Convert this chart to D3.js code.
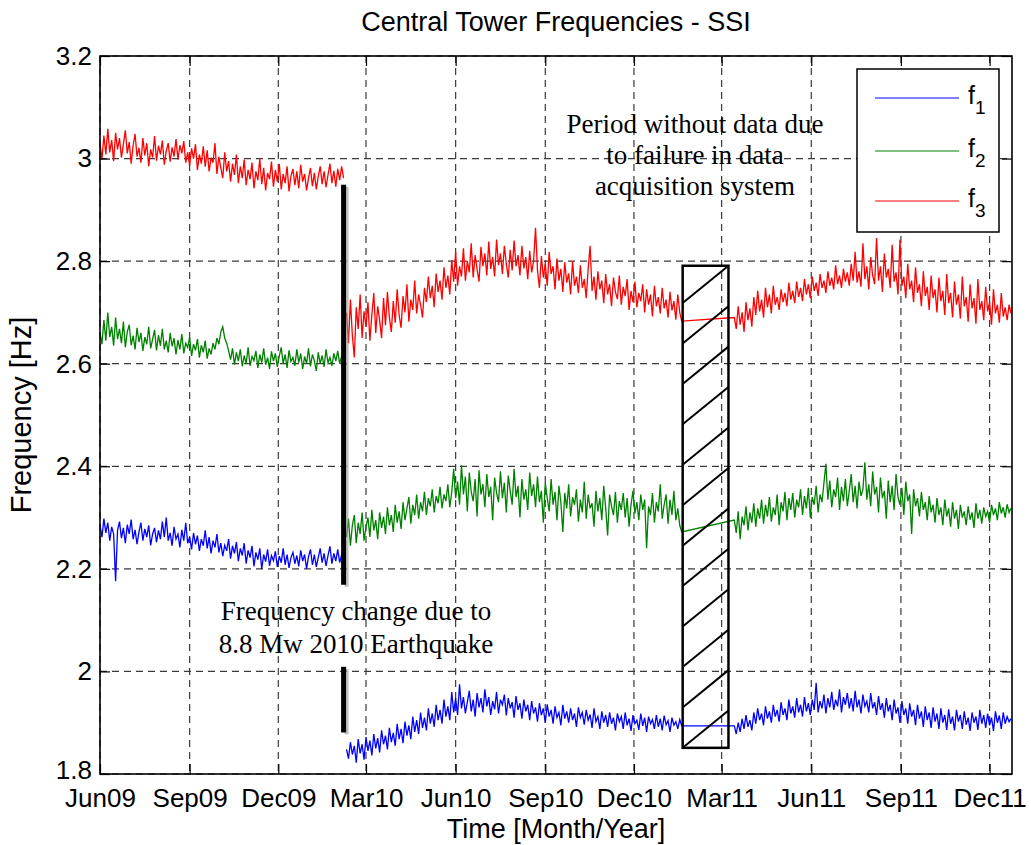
<!DOCTYPE html>
<html><head><meta charset="utf-8">
<script src="https://cdn.jsdelivr.net/npm/d3@7"></script>
<style>body{margin:0;background:#fff}svg{display:block}</style>
</head><body><svg id="c" width="1031" height="845"></svg>
<script>
// ---------- data ----------
const xTickLabels = ["Jun09","Sep09","Dec09","Mar10","Jun10","Sep10","Dec10","Mar11","Jun11","Sep11","Dec11"];
const xTickDates  = ["2009-06-01","2009-09-01","2009-12-01","2010-03-01","2010-06-01","2010-09-01","2010-12-01","2011-03-01","2011-06-01","2011-09-01","2011-12-01"];
const yTicks = [1.8, 2, 2.2, 2.4, 2.6, 2.8, 3, 3.2];
const xDomain = ["2009-06-01", "2011-12-24"];
const stepDays = 2;
const preStart = "2009-06-01";   // before the earthquake
const postStart = "2010-02-09";  // after the earthquake, until the acquisition failure
const lateStart = "2011-03-14";  // after the acquisition failure

const f3Pre = [3.030,2.998,3.045,3.008,3.058,3.012,3.036,2.995,3.050,3.018,
 3.040,3.002,3.028,3.055,3.010,3.032,2.990,3.026,3.048,3.004,
 3.021,2.992,3.040,3.006,3.030,2.985,3.018,3.002,3.044,2.996,
 3.025,3.008,3.035,2.988,3.015,3.030,2.994,3.022,3.004,3.038,
 2.998,3.026,3.010,3.034,2.992,3.012,2.986,3.020,3.000,3.028,
 2.978,3.008,2.990,3.024,2.984,3.016,2.975,3.002,2.992,3.030,
 2.970,3.004,2.982,2.962,3.012,2.975,2.995,2.955,2.990,2.968,
 3.008,2.952,2.985,2.962,2.998,2.948,2.978,2.960,2.992,2.942,
 2.975,2.958,3.000,2.950,2.982,2.938,2.972,2.960,2.994,2.945,
 2.978,2.955,2.990,2.940,2.970,2.952,2.985,2.936,2.966,2.980,
 2.948,2.975,2.942,2.988,2.955,2.970,2.938,2.962,2.982,2.946,
 2.972,2.940,2.965,2.985,2.950,2.975,2.944,2.968,2.990,2.952,
 2.976,2.945,2.980,2.958,2.985,2.962];
const f2Pre = [2.660,2.638,2.685,2.645,2.700,2.652,2.672,2.635,2.690,2.648,
 2.668,2.640,2.682,2.632,2.662,2.676,2.636,2.655,2.628,2.670,
 2.642,2.660,2.625,2.652,2.638,2.672,2.630,2.648,2.666,2.626,
 2.656,2.635,2.668,2.628,2.645,2.622,2.660,2.634,2.650,2.618,
 2.646,2.628,2.658,2.620,2.640,2.632,2.652,2.615,2.638,2.626,
 2.648,2.612,2.636,2.622,2.645,2.610,2.630,2.618,2.640,2.628,
 2.650,2.638,2.662,2.672,2.650,2.640,2.625,2.608,2.630,2.598,
 2.622,2.605,2.628,2.595,2.616,2.600,2.632,2.596,2.614,2.606,
 2.625,2.592,2.618,2.602,2.630,2.598,2.612,2.590,2.624,2.605,
 2.620,2.594,2.615,2.632,2.600,2.618,2.592,2.626,2.604,2.612,
 2.596,2.628,2.602,2.620,2.590,2.614,2.600,2.630,2.595,2.618,
 2.606,2.586,2.622,2.600,2.616,2.594,2.628,2.602,2.612,2.596,
 2.620,2.605,2.625,2.600,2.615,2.608];
const f1Pre = [2.285,2.262,2.298,2.270,2.290,2.255,2.282,2.268,2.176,2.275,
 2.292,2.260,2.280,2.250,2.286,2.268,2.296,2.258,2.276,2.248,
 2.272,2.290,2.255,2.278,2.262,2.285,2.246,2.268,2.280,2.252,
 2.275,2.258,2.292,2.262,2.300,2.255,2.270,2.245,2.282,2.258,
 2.268,2.242,2.276,2.255,2.290,2.250,2.262,2.238,2.270,2.248,
 2.265,2.235,2.258,2.245,2.275,2.240,2.262,2.230,2.255,2.242,
 2.268,2.232,2.250,2.225,2.246,2.235,2.258,2.220,2.245,2.230,
 2.252,2.215,2.240,2.226,2.250,2.210,2.236,2.222,2.245,2.205,
 2.232,2.218,2.240,2.200,2.228,2.214,2.238,2.206,2.226,2.216,
 2.234,2.204,2.225,2.212,2.240,2.208,2.228,2.202,2.222,2.232,
 2.210,2.226,2.205,2.236,2.215,2.228,2.200,2.224,2.238,2.208,
 2.228,2.204,2.222,2.240,2.212,2.230,2.206,2.226,2.244,2.210,
 2.230,2.215,2.238,2.212,2.228,2.220];

const f3Post = [2.700,2.640,2.725,2.655,2.612,2.710,2.668,2.735,2.650,2.702,
 2.672,2.720,2.645,2.695,2.738,2.660,2.712,2.685,2.650,2.728,
 2.675,2.740,2.690,2.662,2.722,2.680,2.745,2.695,2.670,2.732,
 2.700,2.755,2.682,2.725,2.705,2.762,2.698,2.735,2.715,2.690,
 2.748,2.720,2.770,2.728,2.752,2.710,2.776,2.740,2.762,2.725,
 2.788,2.748,2.772,2.735,2.802,2.760,2.818,2.752,2.790,2.770,
 2.825,2.762,2.800,2.778,2.835,2.768,2.812,2.784,2.760,2.828,
 2.790,2.815,2.772,2.838,2.785,2.808,2.770,2.842,2.792,2.815,
 2.775,2.830,2.795,2.768,2.822,2.782,2.840,2.790,2.812,2.772,
 2.830,2.786,2.808,2.765,2.820,2.778,2.800,2.865,2.782,2.748,
 2.810,2.768,2.795,2.752,2.818,2.775,2.790,2.745,2.805,2.762,
 2.785,2.740,2.798,2.758,2.776,2.735,2.800,2.752,2.770,2.738,
 2.792,2.748,2.765,2.728,2.785,2.830,2.742,2.770,2.725,2.780,
 2.745,2.762,2.718,2.775,2.735,2.755,2.712,2.768,2.740,2.726,
 2.772,2.715,2.750,2.732,2.765,2.705,2.742,2.720,2.760,2.710,
 2.738,2.722,2.755,2.700,2.745,2.715,2.735,2.692,2.752,2.712,
 2.730,2.698,2.748,2.708,2.725,2.690,2.740,2.704,2.722,2.686,
 2.735,2.700,2.683];
const f2Post = [2.262,2.298,2.245,2.285,2.305,2.250,2.290,2.268,2.310,2.255,
 2.282,2.300,2.262,2.315,2.275,2.295,2.258,2.310,2.280,2.302,
 2.268,2.320,2.285,2.305,2.272,2.325,2.290,2.312,2.278,2.330,
 2.295,2.318,2.340,2.288,2.325,2.305,2.345,2.298,2.330,2.312,
 2.350,2.305,2.338,2.322,2.355,2.310,2.342,2.328,2.360,2.318,
 2.345,2.332,2.365,2.320,2.350,2.395,2.338,2.370,2.325,2.402,
 2.345,2.380,2.312,2.388,2.350,2.332,2.375,2.302,2.392,2.345,
 2.365,2.320,2.385,2.340,2.360,2.295,2.378,2.348,2.330,2.390,
 2.338,2.368,2.310,2.382,2.352,2.325,2.395,2.340,2.362,2.300,
 2.375,2.335,2.355,2.315,2.388,2.342,2.365,2.320,2.380,2.330,
 2.352,2.290,2.368,2.338,2.312,2.375,2.325,2.350,2.295,2.362,
 2.330,2.272,2.348,2.318,2.365,2.302,2.340,2.325,2.355,2.292,
 2.335,2.310,2.370,2.298,2.345,2.318,2.328,2.282,2.352,2.312,
 2.338,2.295,2.362,2.318,2.265,2.345,2.322,2.305,2.350,2.290,
 2.332,2.315,2.348,2.300,2.338,2.282,2.325,2.352,2.308,2.330,
 2.295,2.345,2.315,2.335,2.240,2.322,2.305,2.348,2.290,2.330,
 2.312,2.365,2.298,2.325,2.345,2.288,2.335,2.305,2.352,2.295,
 2.318,2.285,2.272];
const f1Post = [1.848,1.830,1.862,1.838,1.855,1.822,1.868,1.840,1.858,1.828,
 1.872,1.845,1.865,1.836,1.878,1.850,1.870,1.842,1.885,1.858,
 1.875,1.848,1.890,1.862,1.880,1.855,1.898,1.868,1.888,1.860,
 1.902,1.875,1.895,1.868,1.912,1.882,1.905,1.878,1.920,1.890,
 1.910,1.885,1.928,1.898,1.918,1.892,1.935,1.905,1.925,1.898,
 1.945,1.912,1.932,1.905,1.960,1.920,1.948,1.915,1.975,1.928,
 1.950,1.918,1.940,1.962,1.922,1.945,1.912,1.958,1.930,1.948,
 1.920,1.965,1.932,1.950,1.915,1.942,1.926,1.960,1.918,1.945,
 1.935,1.955,1.914,1.948,1.928,1.940,1.910,1.952,1.925,1.938,
 1.908,1.945,1.922,1.935,1.905,1.942,1.918,1.930,1.902,1.938,
 1.915,1.928,1.900,1.936,1.912,1.925,1.898,1.932,1.910,1.920,
 1.895,1.935,1.908,1.922,1.900,1.928,1.905,1.918,1.892,1.930,
 1.910,1.920,1.896,1.925,1.905,1.916,1.890,1.928,1.902,1.912,
 1.888,1.922,1.900,1.915,1.892,1.920,1.898,1.910,1.885,1.918,
 1.902,1.912,1.888,1.920,1.895,1.908,1.884,1.915,1.898,1.905,
 1.886,1.918,1.894,1.910,1.882,1.912,1.898,1.906,1.888,1.915,
 1.892,1.908,1.885,1.914,1.896,1.904,1.882,1.910,1.895,1.902,
 1.888,1.906,1.894];

const f3Late = [2.690,2.668,2.712,2.676,2.700,2.662,2.720,2.685,2.708,2.672,
 2.730,2.695,2.742,2.702,2.725,2.690,2.748,2.710,2.735,2.698,
 2.752,2.715,2.730,2.705,2.745,2.720,2.738,2.712,2.758,2.725,
 2.742,2.718,2.760,2.730,2.748,2.722,2.765,2.735,2.755,2.728,
 2.770,2.742,2.758,2.732,2.775,2.748,2.762,2.738,2.780,2.752,
 2.768,2.745,2.792,2.755,2.772,2.748,2.785,2.760,2.778,2.752,
 2.795,2.762,2.818,2.758,2.780,2.750,2.835,2.765,2.790,2.745,
 2.808,2.772,2.755,2.845,2.762,2.790,2.740,2.815,2.768,2.785,
 2.748,2.832,2.760,2.778,2.735,2.842,2.752,2.770,2.728,2.795,
 2.745,2.762,2.720,2.788,2.738,2.755,2.712,2.780,2.732,2.750,
 2.705,2.772,2.728,2.745,2.700,2.768,2.722,2.742,2.695,2.775,
 2.718,2.738,2.690,2.760,2.715,2.735,2.688,2.770,2.712,2.730,
 2.682,2.755,2.708,2.728,2.678,2.765,2.705,2.722,2.685,2.750,
 2.702,2.720,2.676,2.745,2.698,2.715,2.680,2.738,2.692,2.710,
 2.685,2.715,2.698];
const f2Late = [2.295,2.270,2.312,2.258,2.302,2.285,2.322,2.275,2.310,2.290,
 2.328,2.282,2.318,2.298,2.335,2.288,2.325,2.302,2.340,2.292,
 2.320,2.305,2.345,2.285,2.330,2.312,2.350,2.295,2.338,2.315,
 2.348,2.300,2.335,2.320,2.355,2.305,2.342,2.318,2.358,2.300,
 2.340,2.325,2.362,2.310,2.345,2.330,2.368,2.405,2.335,2.372,
 2.320,2.355,2.340,2.378,2.315,2.360,2.332,2.375,2.322,2.352,
 2.385,2.330,2.362,2.318,2.370,2.342,2.355,2.408,2.335,2.365,
 2.322,2.390,2.345,2.360,2.310,2.378,2.338,2.352,2.298,2.372,
 2.330,2.362,2.315,2.385,2.340,2.325,2.358,2.305,2.370,2.332,
 2.345,2.268,2.355,2.322,2.338,2.302,2.350,2.315,2.330,2.295,
 2.342,2.310,2.325,2.290,2.338,2.305,2.320,2.285,2.335,2.302,
 2.318,2.282,2.330,2.298,2.315,2.278,2.325,2.300,2.312,2.285,
 2.322,2.296,2.310,2.280,2.328,2.298,2.315,2.288,2.320,2.302,
 2.312,2.290,2.325,2.305,2.318,2.295,2.330,2.308,2.320,2.300,
 2.326,2.310,2.318];
const f1Late = [1.894,1.878,1.900,1.882,1.908,1.888,1.915,1.892,1.905,1.885,
 1.920,1.898,1.928,1.905,1.918,1.895,1.932,1.908,1.922,1.900,
 1.935,1.912,1.925,1.902,1.940,1.915,1.928,1.905,1.945,1.918,
 1.932,1.910,1.948,1.920,1.935,1.912,1.950,1.922,1.938,1.915,
 1.945,1.925,1.978,1.920,1.942,1.928,1.955,1.918,1.948,1.930,
 1.960,1.925,1.945,1.932,1.965,1.920,1.950,1.935,1.958,1.928,
 1.948,1.922,1.962,1.930,1.945,1.918,1.955,1.932,1.942,1.920,
 1.958,1.928,1.940,1.915,1.952,1.925,1.938,1.910,1.948,1.922,
 1.935,1.905,1.945,1.918,1.930,1.900,1.942,1.915,1.928,1.898,
 1.938,1.912,1.925,1.895,1.935,1.908,1.922,1.892,1.932,1.905,
 1.920,1.890,1.930,1.902,1.918,1.888,1.928,1.900,1.915,1.886,
 1.926,1.898,1.912,1.885,1.925,1.902,1.915,1.888,1.922,1.896,
 1.910,1.884,1.920,1.900,1.912,1.886,1.925,1.898,1.915,1.890,
 1.918,1.895,1.910,1.884,1.922,1.900,1.914,1.888,1.920,1.898,
 1.912,1.902,1.908];

const seriesNames = ["f1", "f2", "f3"];
const seriesColors = ["#0000ff", "#008000", "#ff0000"];

// annotations (data coordinates)
const quakeBarDate = "2010-02-06";
const quakeBarSegments = [[2.949, 2.169], [2.009, 1.881]];
const gapBoxDates = ["2011-01-20", "2011-03-08"];
const gapBoxValues = [1.851, 2.791];
const gapNote = ["Period without data due", "to failure in data", "acquisition system"];
const quakeNote = ["Frequency change due to", "8.8 Mw 2010 Earthquake"];

// ---------- drawing ----------
const parse = d3.utcParse("%Y-%m-%d");
const L = 100, R = 1012, T = 56, B = 774;
const sans = "'Liberation Sans', Arial, Helvetica, sans-serif";
const serif = "'Liberation Serif', 'Times New Roman', serif";

const x = d3.scaleUtc().domain(xDomain.map(parse)).range([L, R]);
const y = d3.scaleLinear().domain([1.8, 3.2]).range([B, T]);

const svg = d3.select("#c");
svg.append("rect").attr("width", 1031).attr("height", 845).attr("fill", "#fff");

svg.append("defs").append("clipPath").attr("id", "plotclip")
  .append("rect").attr("x", L).attr("y", T).attr("width", R - L).attr("height", B - T);

// grid
const grid = svg.append("g").attr("stroke", "#3a3a3a").attr("stroke-width", 1.2)
  .attr("stroke-dasharray", "7,5");
grid.selectAll("line.v").data(xTickDates.map(parse)).join("line")
  .attr("x1", d => x(d)).attr("x2", d => x(d)).attr("y1", T).attr("y2", B);
grid.selectAll("line.h").data(yTicks).join("line")
  .attr("x1", L).attr("x2", R).attr("y1", d => y(d)).attr("y2", d => y(d));

// series
function build(start, vals) {
  const s = parse(start);
  return vals.map((v, i) => ({ d: d3.utcDay.offset(s, i * stepDays), v }));
}
const seriesData = [
  [build(preStart, f1Pre), build(postStart, f1Post).concat(build(lateStart, f1Late))],
  [build(preStart, f2Pre), build(postStart, f2Post).concat(build(lateStart, f2Late))],
  [build(preStart, f3Pre), build(postStart, f3Post).concat(build(lateStart, f3Late))]
];
const line = d3.line().x(p => x(p.d)).y(p => y(p.v));
const dataG = svg.append("g").attr("clip-path", "url(#plotclip)");
seriesData.forEach((segs, si) => {
  segs.forEach(seg => {
    dataG.append("path").attr("d", line(seg)).attr("fill", "none")
      .attr("stroke", seriesColors[si]).attr("stroke-width", 1.3)
      .attr("stroke-linejoin", "miter");
  });
});

// axes
function styleAxis(g, labels) {
  g.select(".domain").remove();
  g.selectAll(".tick line").attr("stroke", "#000").attr("stroke-width", 1.2);
  g.selectAll(".tick text").attr("font-family", sans).attr("font-size", 26).attr("fill", "#000");
  if (!labels) g.selectAll(".tick text").remove();
}
svg.append("g").attr("transform", `translate(0,${B})`)
  .call(d3.axisBottom(x).tickValues(xTickDates.map(parse))
    .tickFormat((d, i) => xTickLabels[i]).tickSize(-10).tickPadding(15))
  .call(g => styleAxis(g, true));
svg.append("g").attr("transform", `translate(0,${T})`)
  .call(d3.axisTop(x).tickValues(xTickDates.map(parse)).tickSize(-10))
  .call(g => styleAxis(g, false));
svg.append("g").attr("transform", `translate(${L},0)`)
  .call(d3.axisLeft(y).tickValues(yTicks).tickFormat(d => String(d)).tickSize(-10).tickPadding(8))
  .call(g => styleAxis(g, true))
  .call(g => g.selectAll(".tick text").filter(d => d === 1.8).attr("y", -4));
svg.append("g").attr("transform", `translate(${R},0)`)
  .call(d3.axisRight(y).tickValues(yTicks).tickSize(-10))
  .call(g => styleAxis(g, false));

svg.append("rect").attr("x", L).attr("y", T).attr("width", R - L).attr("height", B - T)
  .attr("fill", "none").attr("stroke", "#000").attr("stroke-width", 1.6);

// earthquake bar
const qx = x(parse(quakeBarDate));
quakeBarSegments.forEach(([a, b]) => {
  svg.append("rect").attr("x", qx + 1).attr("y", y(a) + 2).attr("width", 4).attr("height", y(b) - y(a))
    .attr("fill", "#999").attr("opacity", 0.6);
  svg.append("rect").attr("x", qx - 2.5).attr("y", y(a)).attr("width", 5).attr("height", y(b) - y(a))
    .attr("fill", "#000");
});

// hatched gap box
const bx0 = x(parse(gapBoxDates[0])), bx1 = x(parse(gapBoxDates[1]));
const by0 = y(gapBoxValues[1]), by1 = y(gapBoxValues[0]);
const bw = bx1 - bx0, slope = 0.814, nh = 12;
const drop = bw * slope, spacing = (by1 - by0 - drop) / (nh - 1);
const hatch = svg.append("g").attr("stroke", "#000").attr("stroke-width", 2);
d3.range(nh).forEach(k => {
  const yr = by0 + k * spacing;
  hatch.append("line").attr("x1", bx1).attr("y1", yr).attr("x2", bx0).attr("y2", yr + drop);
});
svg.append("rect").attr("x", bx0).attr("y", by0).attr("width", bw).attr("height", by1 - by0)
  .attr("fill", "none").attr("stroke", "#000").attr("stroke-width", 2.5);

// notes
const n1 = svg.append("text").attr("font-family", serif).attr("font-size", 27)
  .attr("text-anchor", "middle").attr("fill", "#000");
gapNote.forEach((t, i) => n1.append("tspan").attr("x", 695).attr("y", 133 + i * 31).text(t));
const n2 = svg.append("text").attr("font-family", serif).attr("font-size", 27)
  .attr("text-anchor", "middle").attr("fill", "#000");
quakeNote.forEach((t, i) => n2.append("tspan").attr("x", 356).attr("y", 620 + i * 33).text(t));

// legend
const lg = svg.append("g");
lg.append("rect").attr("x", 857).attr("y", 69).attr("width", 142).attr("height", 163)
  .attr("fill", "#fff").attr("stroke", "#000").attr("stroke-width", 1.5);
const legendY = [98, 151, 201];
seriesNames.forEach((n, i) => {
  lg.append("line").attr("x1", 875).attr("x2", 959).attr("y1", legendY[i]).attr("y2", legendY[i])
    .attr("stroke", seriesColors[i]).attr("stroke-width", 1.1);
  const t = lg.append("text").attr("x", 968).attr("y", legendY[i] + 6)
    .attr("font-family", sans).attr("font-size", 25).attr("fill", "#000");
  t.append("tspan").text("f");
  t.append("tspan").attr("dy", 10).attr("font-size", 19).text(n.slice(1));
});

// titles
svg.append("text").attr("x", (L + R) / 2).attr("y", 31).attr("text-anchor", "middle")
  .attr("font-family", sans).attr("font-size", 27).attr("fill", "#000")
  .text("Central Tower Frequencies - SSI");
svg.append("text").attr("x", (L + R) / 2).attr("y", 838).attr("text-anchor", "middle")
  .attr("font-family", sans).attr("font-size", 27).attr("fill", "#000")
  .text("Time [Month/Year]");
svg.append("text").attr("transform", `translate(31,${(T + B) / 2}) rotate(-90)`)
  .attr("text-anchor", "middle").attr("font-family", sans).attr("font-size", 29).attr("fill", "#000")
  .text("Frequency [Hz]");
</script>
</body></html>
